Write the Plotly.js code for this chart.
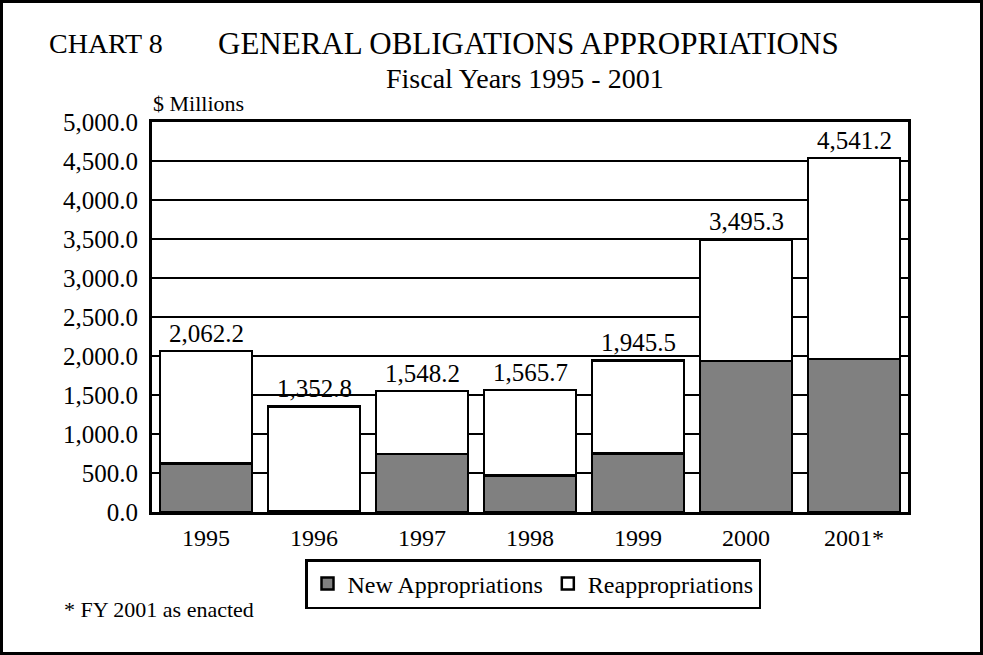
<!DOCTYPE html>
<html>
<head>
<meta charset="utf-8">
<script src="https://cdn.plot.ly/plotly-3.0.1.min.js"></script>
<style>
  html, body { margin: 0; padding: 0; background: #fff; overflow: hidden; }
  #wrap { position: relative; width: 983px; height: 655px; }
  #chart { position: absolute; left: 0; top: 0; width: 983px; height: 655px; }
  #frame { position: absolute; left: 0; top: 0; width: 983px; height: 655px;
           box-sizing: border-box; border: 3px solid #000; pointer-events: none; }
</style>
</head>
<body>
<div id="wrap">
  <div id="chart"></div>
  <div id="frame"></div>
</div>
<script>
// Fiscal years on the category axis
const years = ['1995', '1996', '1997', '1998', '1999', '2000', '2001*'];

// $ millions
const newAppropriations = [624.0, 12.0, 744.0, 465.0, 753.0, 1936.0, 1962.0];
const reappropriations  = [1438.2, 1340.8, 804.2, 1100.7, 1192.5, 1559.3, 2579.2];
const totals            = [2062.2, 1352.8, 1548.2, 1565.7, 1945.5, 3495.3, 4541.2];

const yTickValues = [0, 500, 1000, 1500, 2000, 2500, 3000, 3500, 4000, 4500, 5000];

const SERIF = 'Liberation Serif, Times New Roman, serif';

// plot-area geometry (pixels)
const L = 152, R = 75, T = 122, B = 143, W = 983, H = 655;
const plotW = W - L - R, plotH = H - T - B;
const px = x => (x - L) / plotW;
const py = y => (H - B - y) / plotH;

const traces = [
  {
    type: 'bar', name: 'New Appropriations', x: years, y: newAppropriations,
    marker: { color: '#808080', line: { color: '#000', width: 2.5 } },
    hoverinfo: 'skip'
  },
  {
    type: 'bar', name: 'Reappropriations', x: years, y: reappropriations,
    marker: { color: '#ffffff', line: { color: '#000', width: 2.5 } },
    hoverinfo: 'skip'
  }
];

const fmt = v => v.toLocaleString('en-US', { minimumFractionDigits: 1, maximumFractionDigits: 1 });

// total labels above each stack (x given as category index)
const annotations = totals.map((t, i) => ({
  x: i, y: t, xref: 'x', yref: 'y',
  text: fmt(t), showarrow: false, yanchor: 'bottom', yshift: 2,
  font: { family: SERIF, size: 25, color: '#000' }
}));

annotations.push(
  { xref: 'paper', yref: 'paper', x: px(47), y: py(43), xanchor: 'left', yanchor: 'middle',
    text: 'CHART 8', showarrow: false, font: { family: SERIF, size: 28, color: '#000' } },
  { xref: 'paper', yref: 'paper', x: px(216), y: py(43), xanchor: 'left', yanchor: 'middle',
    text: 'GENERAL OBLIGATIONS APPROPRIATIONS', showarrow: false,
    font: { family: SERIF, size: 31, color: '#000' } },
  { xref: 'paper', yref: 'paper', x: px(525), y: py(79), xanchor: 'center', yanchor: 'middle',
    text: 'Fiscal Years 1995 - 2001', showarrow: false,
    font: { family: SERIF, size: 28, color: '#000' } },
  { xref: 'paper', yref: 'paper', x: px(151), y: py(104), xanchor: 'left', yanchor: 'middle',
    text: '$ Millions', showarrow: false, font: { family: SERIF, size: 22, color: '#000' } },
  { xref: 'paper', yref: 'paper', x: px(62), y: py(609), xanchor: 'left', yanchor: 'middle',
    text: '* FY 2001 as enacted', showarrow: false, font: { family: SERIF, size: 22, color: '#000' } }
);

const layout = {
  width: W, height: H,
  margin: { l: L, r: R, t: T, b: B, pad: 0 },
  paper_bgcolor: '#fff', plot_bgcolor: '#fff',
  barmode: 'stack', bargap: 0.15,
  showlegend: true,
  legend: {
    orientation: 'h', traceorder: 'normal',
    x: px(533), xanchor: 'center', y: py(559), yanchor: 'top',
    bordercolor: '#000', borderwidth: 2.5, bgcolor: '#fff',
    font: { family: SERIF, size: 24, color: '#000' },
    itemclick: false, itemdoubleclick: false, tracegroupgap: 0
  },
  xaxis: {
    type: 'category', range: [-0.5, 6.5], autorange: false,
    showline: true, linecolor: '#000', linewidth: 3, mirror: true,
    ticks: '', showgrid: false, zeroline: false,
    tickfont: { family: SERIF, size: 24, color: '#000' }, ticklabelstandoff: 2
  },
  yaxis: {
    range: [0, 5000], autorange: false, tickvals: yTickValues, tickformat: ',.1f',
    showline: true, linecolor: '#000', linewidth: 3, mirror: true,
    showgrid: true, gridcolor: '#000', gridwidth: 2, zeroline: false, ticks: '',
    tickfont: { family: SERIF, size: 25, color: '#000' }, ticklabelstandoff: 6
  },
  annotations: annotations
};

Plotly.newPlot('chart', traces, layout, { staticPlot: true, displayModeBar: false });
</script>
</body>
</html>
